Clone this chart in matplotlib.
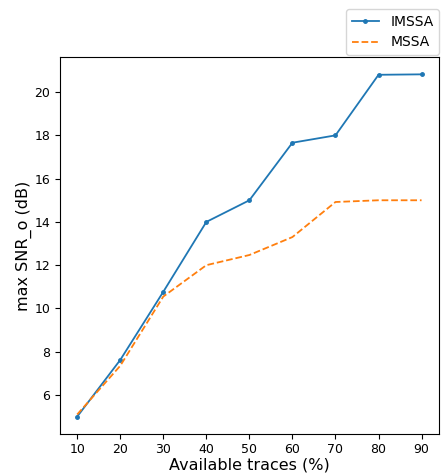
import matplotlib
matplotlib.use('Agg')
import matplotlib.pyplot as plt

traces = [10, 20, 30, 40, 50, 60, 70, 80, 90]
imssa = [5.0, 7.62, 10.77, 14.0, 15.0, 17.66, 18.0, 20.8, 20.82]
mssa = [5.1, 7.35, 10.55, 12.0, 12.47, 13.3, 14.92, 15.0, 15.0]

fig, ax = plt.subplots(figsize=(4.41, 4.73), dpi=100)
fig.subplots_adjust(left=0.136, right=0.995, top=0.879, bottom=0.083)

ax.plot(traces, imssa, color='tab:blue', marker='.', markersize=5, linewidth=1.3, label='IMSSA')
ax.plot(traces, mssa, color='tab:orange', linestyle='--', linewidth=1.3, label='MSSA')

ax.set_xticks(traces)
ax.set_xlabel('Available traces (%)', fontsize=11.5, labelpad=1)
ax.set_ylabel('max SNR_o (dB)', fontsize=11.5, labelpad=2)
ax.tick_params(labelsize=9)

fig.legend(loc='upper right', bbox_to_anchor=(0.996, 0.981), borderaxespad=0, fontsize=10)

fig.savefig('out.png', dpi=100)
